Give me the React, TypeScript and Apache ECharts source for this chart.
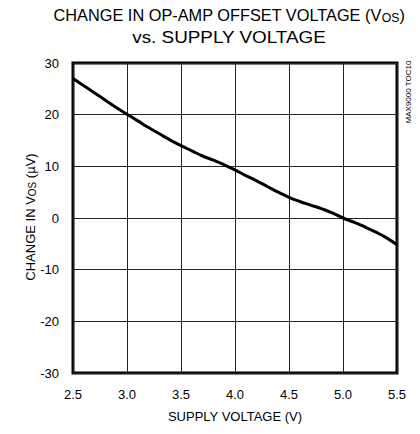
import React, { useEffect, useRef } from "react";
import * as echarts from "echarts";

const supplyVoltage = [2.5, 2.6, 2.7, 2.8, 2.9, 3.0, 3.1, 3.2, 3.3, 3.4, 3.5, 3.6, 3.7, 3.8, 3.9, 4.0, 4.1, 4.2, 4.3, 4.4, 4.5, 4.6, 4.7, 4.8, 4.9, 5.0, 5.1, 5.2, 5.3, 5.4, 5.5];
const vosChange = [27.0, 25.6, 24.2, 22.8, 21.4, 20.1, 18.8, 17.5, 16.3, 15.1, 14.0, 13.0, 12.0, 11.2, 10.3, 9.3, 8.2, 7.2, 6.1, 5.0, 4.0, 3.2, 2.5, 1.8, 1.0, 0.0, -0.8, -1.7, -2.7, -3.8, -5.2];

const FONT = "'Liberation Sans', Arial, sans-serif";

export default function App() {
  const ref = useRef<HTMLDivElement>(null);
  useEffect(() => {
    if (!ref.current) return;
    const chart = echarts.init(ref.current, null, { renderer: "svg" });
    const data = supplyVoltage.map((x, i) => [x, vosChange[i]]);
    chart.setOption({
      animation: false,
      backgroundColor: "#fff",
      grid: {
        left: 73,
        right: 23,
        top: 63,
        bottom: 61,
        show: true,
        borderColor: "#000",
        borderWidth: 3,
      },
      graphic: [
        {
          type: "text",
          x: 229,
          y: 15,
          scaleX: 1.02,
          scaleY: 1.08,
          style: {
            text: "CHANGE IN OP-AMP OFFSET VOLTAGE (V{sub|OS})",
            font: `16px ${FONT}`,
            fill: "#000",
            align: "center",
            verticalAlign: "middle",
            rich: {
              sub: { fontSize: 12, fontFamily: "Liberation Sans, Arial, sans-serif", padding: [6, 0, 0, 0] },
            },
          },
        },
        {
          type: "text",
          x: 229,
          y: 37,
          scaleX: 1.18,
          scaleY: 1.08,
          style: {
            text: "vs. SUPPLY VOLTAGE",
            font: `16px ${FONT}`,
            fill: "#000",
            align: "center",
            verticalAlign: "middle",
          },
        },
        {
          type: "text",
          x: 408,
          y: 92,
          rotation: Math.PI / 2,
          style: {
            text: "MAX9000 TOC10",
            font: `8px ${FONT}`,
            fill: "#000",
            align: "center",
            verticalAlign: "middle",
          },
        },
        {
          type: "text",
          x: 30,
          y: 217,
          rotation: Math.PI / 2,
          style: {
            text: "CHANGE IN V{sub|OS} (µV)",
            font: `13px ${FONT}`,
            fill: "#000",
            align: "center",
            verticalAlign: "middle",
            rich: {
              sub: { fontSize: 10, fontFamily: "Liberation Sans, Arial, sans-serif", padding: [4, 0, 0, 0] },
            },
          },
        },
      ],
      xAxis: {
        type: "value",
        min: 2.5,
        max: 5.5,
        interval: 0.5,
        name: "SUPPLY VOLTAGE (V)",
        nameLocation: "middle",
        nameGap: 37,
        nameTextStyle: { fontFamily: FONT, fontSize: 13, color: "#000" },
        axisLine: { show: false },
        axisTick: { show: false },
        axisLabel: {
          margin: 15,
          fontFamily: FONT,
          fontSize: 13,
          color: "#000",
          formatter: (v: number) => v.toFixed(1),
        },
        splitLine: { show: true, lineStyle: { color: "#222", width: 1 } },
      },
      yAxis: {
        type: "value",
        min: -30,
        max: 30,
        interval: 10,
        axisLine: { show: false },
        axisTick: { show: false },
        axisLabel: {
          margin: 14,
          fontFamily: FONT,
          fontSize: 13,
          color: "#000",
        },
        splitLine: { show: true, lineStyle: { color: "#222", width: 1 } },
      },
      series: [
        {
          type: "line",
          data,
          smooth: true,
          showSymbol: false,
          lineStyle: { color: "#000", width: 3 },
        },
      ],
    });
    return () => chart.dispose();
  }, []);
  return (
    <div
      ref={ref}
      style={{ position: "fixed", left: 0, top: 0, width: 420, height: 434 }}
    />
  );
}
